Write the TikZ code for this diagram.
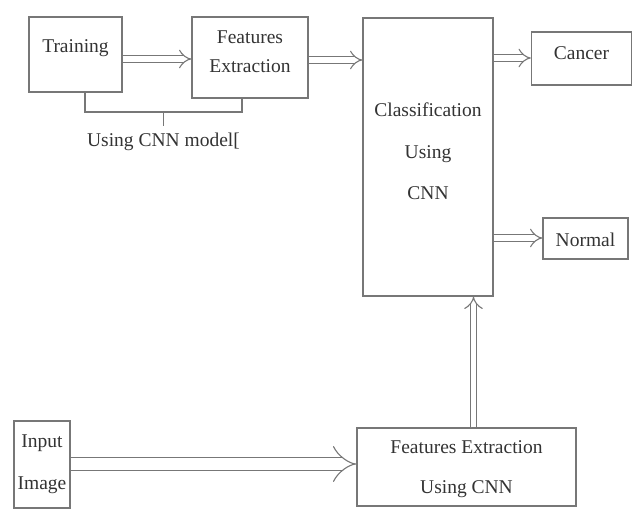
\documentclass[tikz,border=0pt]{standalone}
\usepackage{fontspec}
\setmainfont{Liberation Serif}
\usetikzlibrary{arrows.meta,calc}
\definecolor{linegray}{HTML}{777777}
\definecolor{textgray}{HTML}{333333}
\tikzset{
  box/.style={draw=linegray, line width=1.3pt, minimum width=#1, inner sep=0pt},
  tl/.style={text=textgray, align=center, inner sep=0pt, font=\fontsize{19.5}{29}\selectfont},
  lbl/.style={text=textgray, font=\fontsize{19.5}{22}\selectfont, inner sep=0pt},
  dbl/.style={draw=linegray, double=white, line width=1.1pt, double distance=5.5pt, -{Implies}},
  bigdbl/.style={draw=linegray, double=white, line width=1.1pt, double distance=12pt, -{Implies}},
  brk/.style={draw=linegray, line width=1.3pt}
}
\begin{document}
\begin{tikzpicture}[x=1pt,y=-1pt]
\useasboundingbox (0,0) rectangle (632,522);
% boxes
\node[box=93pt, minimum height=75pt, label={[tl, yshift=6.5pt]center:Training}] (train) at (75.5,54.5) {};
\node[box=116pt, minimum height=81pt, label={[tl, yshift=6pt]center:Features\\Extraction}] (fe1) at (250,57.5) {};
\node[box=130pt, minimum height=278pt, label={[tl, font=\fontsize{19.5}{41.5}\selectfont, yshift=5.5pt]center:Classification\\Using\\CNN}] (cls) at (428,157) {};
\node[box=100pt, minimum height=53pt, label={[tl, yshift=5.5pt]center:Cancer}] (cancer) at (581.5,58.5) {};
\node[box=85pt, minimum height=41pt, label={[tl, yshift=-1pt]center:Normal}] (normal) at (585.5,238.5) {};
\node[box=56pt, minimum height=87pt, label={[tl, font=\fontsize{19.5}{42}\selectfont]center:Input\\Image}] (input) at (42,464.5) {};
\node[box=219pt, minimum height=78pt, label={[tl, font=\fontsize{19.5}{40}\selectfont, yshift=-2pt]center:Features Extraction\\Using CNN}] (fe2) at (466.5,467) {};
% arrows
\draw[dbl] (train.east |- 0,59) -- (fe1.west |- 0,59);
\draw[dbl] (fe1.east |- 0,60) -- (cls.west |- 0,60);
\draw[dbl] (cls.east |- 0,58) -- (cancer.west |- 0,58);
\draw[dbl] (cls.east |- 0,238) -- (normal.west |- 0,238);
\draw[bigdbl] (input.east |- 0,464) -- (fe2.west |- 0,464);
\draw[dbl] (fe2.north -| 473.5,0) -- (cls.south -| 473.5,0);
% bracket
\coordinate (bl) at (85,112);
\coordinate (br) at (242,112);
\coordinate (bm) at (163.5,112);
\node[lbl] (using) at (163.5,142) {Using CNN model[};
\draw[brk] (train.south -| bl) -- (bl) -- (br) -- (fe1.south -| br);
\draw[brk] (bm) -- (using.north |- 0,126);
\end{tikzpicture}
\end{document}
